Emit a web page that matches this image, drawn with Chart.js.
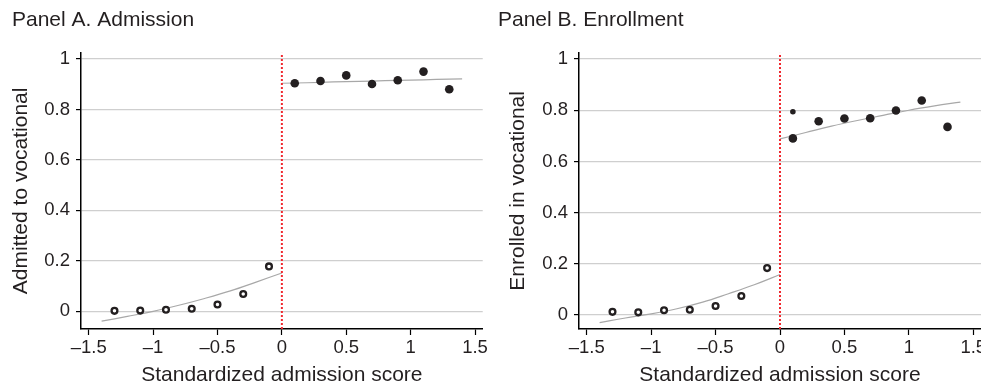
<!DOCTYPE html>
<html lang="en">
<head>
    <meta charset="UTF-8">
    <title>Admission and enrollment at the cutoff</title>
    <script src="https://cdn.jsdelivr.net/npm/chart.js"></script>
    <style>
        body { margin: 0; background: #fff; }
        #wrap { position: relative; width: 981px; height: 386px; overflow: hidden; }
        canvas { position: absolute; top: 0; }
        #chartA { left: 0; }
        #chartB { left: 490px; }
    </style>
</head>
<body>
    <div id="wrap">
        <canvas id="chartA" width="490" height="386"></canvas>
        <!-- wider than the visible area so the last tick label may spill past the edge -->
        <canvas id="chartB" width="515" height="386"></canvas>
    </div>

    <script>
        // bin midpoints of the standardized score
        const binsLeft = [-1.3, -1.1, -0.9, -0.7, -0.5, -0.3, -0.1];
        const binsRight = [0.1, 0.3, 0.5, 0.7, 0.9, 1.1, 1.3];

        // Panel A: admitted to vocational
        const admitLeft = [0.002, 0.003, 0.006, 0.010, 0.027, 0.069, 0.178];
        const admitRight = [0.904, 0.913, 0.935, 0.901, 0.916, 0.950, 0.880];

        // Panel B: enrolled in vocational
        const enrollLeft = [0.012, 0.010, 0.018, 0.020, 0.035, 0.074, 0.183];
        const enrollRight = [0.690, 0.757, 0.768, 0.769, 0.799, 0.838, 0.735];
        const enrollExtraX = [0.1];
        const enrollExtraY = [0.794];

        // fitted lines
        const fitLeftX = [-1.4, -1.2, -1.0, -0.8, -0.6, -0.4, -0.2, 0];
        const fitRightX = [0, 0.2, 0.4, 0.6, 0.8, 1.0, 1.2, 1.4];
        const admitFitLeft = [-0.039, -0.020, 0.000, 0.024, 0.051, 0.081, 0.116, 0.152];
        const admitFitRight = [0.904, 0.906, 0.909, 0.911, 0.914, 0.916, 0.919, 0.921];
        const enrollFitLeft = [-0.030, -0.012, 0.004, 0.024, 0.050, 0.083, 0.118, 0.158];
        const enrollFitRight = [0.688, 0.713, 0.738, 0.760, 0.780, 0.800, 0.817, 0.832];

        const cutoff = 0;
        const xTicks = [-1.5, -1, -0.5, 0, 0.5, 1, 1.5];
        const yTicks = [0, 0.2, 0.4, 0.6, 0.8, 1];

        const FONT = "'Liberation Sans', Arial, Helvetica, sans-serif";
        const INK = '#231f20';

        function pts(xs, ys) {
            return xs.map((x, i) => ({ x: x, y: ys[i] }));
        }

        function fmt(v) {
            return v < 0 ? '\u2013' + Math.abs(v) : String(v);
        }

        function makePanel(id, cfg) {
            const ctx = document.getElementById(id).getContext('2d');
            const fitStyle = { type: 'line', borderColor: '#a8a8a8', borderWidth: 1.2, pointRadius: 0, tension: 0.4, fill: false, order: 3 };
            return new Chart(ctx, {
                type: 'scatter',
                data: {
                    datasets: [
                        { data: pts(binsLeft, cfg.left), pointRadius: 2.9, pointBorderWidth: 2.3, pointBackgroundColor: '#fff', pointBorderColor: INK, order: 1 },
                        { data: pts(binsRight, cfg.right), pointRadius: 4.3, pointBorderWidth: 0, pointBackgroundColor: INK, pointBorderColor: INK, order: 1 },
                        { data: pts(cfg.extraX, cfg.extraY), pointRadius: 2.8, pointBorderWidth: 0, pointBackgroundColor: INK, order: 1 },
                        Object.assign({ data: pts(fitLeftX, cfg.fitLeft) }, fitStyle),
                        Object.assign({ data: pts(fitRightX, cfg.fitRight) }, fitStyle),
                        { type: 'line', data: pts([cutoff, cutoff], [cfg.yMin, cfg.yMax]), borderColor: '#f0282e', borderWidth: 2, borderDash: [2, 2], pointRadius: 0, order: 2 }
                    ]
                },
                options: {
                    responsive: false,
                    animation: false,
                    events: [],
                    layout: { padding: { left: cfg.padLeft, right: cfg.padRight, top: 0, bottom: 0 } },
                    plugins: {
                        legend: { display: false },
                        tooltip: { enabled: false },
                        title: {
                            display: true,
                            text: cfg.title,
                            align: 'start',
                            color: INK,
                            font: { family: FONT, size: 21, weight: 'normal' },
                            padding: { top: 8, bottom: 19.5 }
                        }
                    },
                    scales: {
                        x: {
                            type: 'linear',
                            min: -1.56,
                            max: 1.56,
                            afterBuildTicks: s => { s.ticks = xTicks.map(v => ({ value: v })); },
                            afterFit: s => { s.height = 57; },
                            border: { display: true, color: '#000', width: 1.5 },
                            grid: { drawOnChartArea: false, drawTicks: true, tickLength: 6, tickColor: '#000', tickWidth: 1.2 },
                            ticks: { color: INK, padding: 2, font: { family: FONT, size: 18.5 }, callback: v => fmt(v), maxRotation: 0, autoSkip: false },
                            title: { display: true, text: 'Standardized admission score', color: INK, font: { family: FONT, size: 21 }, padding: { top: 0, bottom: -2 } }
                        },
                        y: {
                            type: 'linear',
                            min: cfg.yMin,
                            max: cfg.yMax,
                            afterBuildTicks: s => { s.ticks = yTicks.map(v => ({ value: v })); },
                            afterFit: s => { s.width = cfg.axisWidth; },
                            border: { display: true, color: '#000', width: 1.5 },
                            grid: { color: '#cfcfcf', lineWidth: 1.2, drawTicks: true, tickLength: 5, tickColor: '#000', tickWidth: 1.2 },
                            ticks: { color: INK, padding: 6, font: { family: FONT, size: 18.5 }, callback: v => fmt(v), autoSkip: false },
                            title: { display: true, text: cfg.yTitle, color: INK, font: { family: FONT, size: 21 }, padding: { top: cfg.yTitlePad, bottom: 0 } }
                        }
                    }
                }
            });
        }

        makePanel('chartA', {
            title: 'Panel A. Admission',
            yTitle: 'Admitted to vocational',
            left: admitLeft,
            right: admitRight,
            extraX: [],
            extraY: [],
            fitLeft: admitFitLeft,
            fitRight: admitFitRight,
            yMin: -0.07,
            yMax: 1.025,
            padLeft: 12,
            padRight: 7,
            axisWidth: 69,
            yTitlePad: -3.3
        });

        makePanel('chartB', {
            title: 'Panel B. Enrollment',
            yTitle: 'Enrolled in vocational',
            left: enrollLeft,
            right: enrollRight,
            extraX: enrollExtraX,
            extraY: enrollExtraY,
            fitLeft: enrollFitLeft,
            fitRight: enrollFitRight,
            yMin: -0.055,
            yMax: 1.025,
            padLeft: 8,
            padRight: 24,
            axisWidth: 81,
            yTitlePad: 7.3
        });
    </script>
</body>
</html>
